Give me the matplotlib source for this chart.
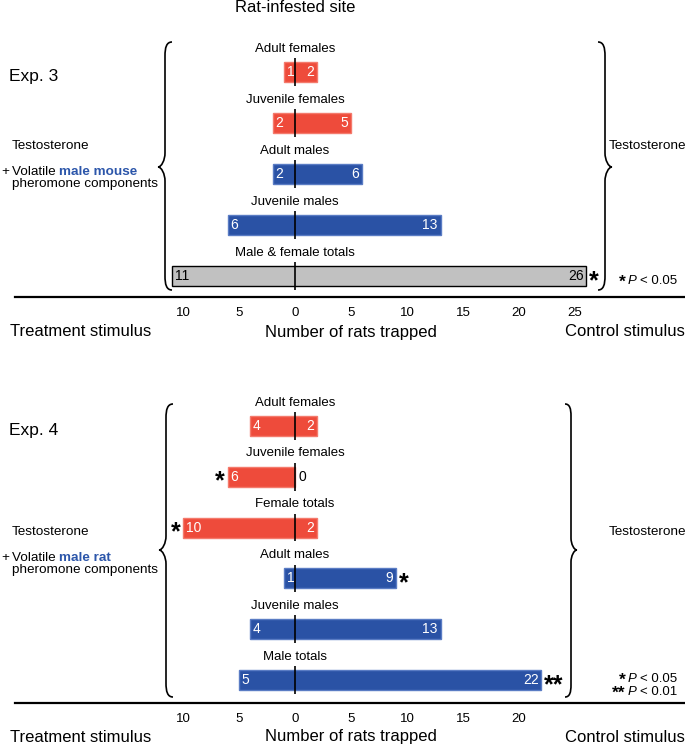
import matplotlib
matplotlib.use('Agg')
import matplotlib.pyplot as plt
from matplotlib.path import Path
from matplotlib.patches import PathPatch
import numpy as np

plt.rcParams['font.family'] = ['Liberation Sans', 'DejaVu Sans']

# ---------------------------------------------------------------------------
#  data
# ---------------------------------------------------------------------------
exp3_groups    = ['Adult females', 'Juvenile females', 'Adult males',
                  'Juvenile males', 'Male & female totals']
exp3_treatment = [1, 2, 2, 6, 11]
exp3_control   = [2, 5, 6, 13, 26]
exp3_sex       = ['f', 'f', 'm', 'm', 'all']
exp3_sig_treat = ['', '', '', '', '']
exp3_sig_ctrl  = ['', '', '', '', '*']
exp3_ticks     = [-10, -5, 0, 5, 10, 15, 20, 25]

exp4_groups    = ['Adult females', 'Juvenile females', 'Female totals',
                  'Adult males', 'Juvenile males', 'Male totals']
exp4_treatment = [4, 6, 10, 1, 4, 5]
exp4_control   = [2, 0, 2, 9, 13, 22]
exp4_sex       = ['f', 'f', 'f', 'm', 'm', 'm']
exp4_sig_treat = ['', '*', '*', '', '', '']
exp4_sig_ctrl  = ['', '', '', '*', '', '**']
exp4_ticks     = [-10, -5, 0, 5, 10, 15, 20]

# ---------------------------------------------------------------------------
#  style
# ---------------------------------------------------------------------------
fill_colors = {'f': '#EE4B3B', 'm': '#2A52A5', 'all': '#C1C1C1'}
edge_colors = {'f': '#F47A6C', 'm': '#5A7CC4', 'all': 'black'}
text_colors = {'f': 'white', 'm': 'white', 'all': 'black'}
BLUE_TEXT = '#2C56AA'
SIDE_FS = 9.7
STAR_FS = 18

W, H = 685, 747
ZERO_PX, UNIT_PX = 295, 11.2
fig = plt.figure(figsize=(W / 100, H / 100), dpi=100)

# overlay axes in pixel coordinates for free text and braces
ov = fig.add_axes([0, 0, 1, 1], zorder=5)
ov.set_xlim(0, W)
ov.set_ylim(H, 0)
ov.axis('off')
ov.patch.set_alpha(0)


def make_axes(top_px, bottom_px, first_row_px, row_px):
    left, right = 15, 685
    ax = fig.add_axes([left / W, 1 - bottom_px / H, (right - left) / W, (bottom_px - top_px) / H])
    ax.set_xlim((left - ZERO_PX) / UNIT_PX, (right - ZERO_PX) / UNIT_PX)
    ax.set_ylim((bottom_px - first_row_px) / row_px, (top_px - first_row_px) / row_px)
    for s in ['top', 'left', 'right']:
        ax.spines[s].set_visible(False)
    ax.spines['bottom'].set_linewidth(1.6)
    ax.set_yticks([])
    ax.patch.set_alpha(0)
    return ax


def draw_panel(ax, groups, treat, ctrl, sex, sig_t, sig_c, ticks):
    rows = np.arange(len(groups))
    treat = np.array(treat)
    ctrl = np.array(ctrl)
    ax.barh(rows, treat + ctrl, left=-treat, height=0.39,
            color=[fill_colors[s] for s in sex],
            edgecolor=[edge_colors[s] for s in sex], linewidth=1.0, zorder=2)
    ax.vlines(np.zeros(len(rows)), rows - 0.27, rows + 0.27, color='black', linewidth=1.2, zorder=3)
    for i, g in enumerate(groups):
        ax.text(0, i - 0.46, g, ha='center', va='center', fontsize=9.5)
        tc = text_colors[sex[i]]
        ax.text(-treat[i] + 0.25, i, str(treat[i]), ha='left', va='center',
                fontsize=10, color=tc, zorder=4)
        if ctrl[i] == 0:
            ax.text(0.3, i, '0', ha='left', va='center', fontsize=10, color='black', zorder=4)
        else:
            ax.text(ctrl[i] - 0.25, i, str(ctrl[i]), ha='right', va='center',
                    fontsize=10, color=tc, zorder=4)
        if sig_t[i]:
            ax.annotate(sig_t[i], xy=(-treat[i], i), xytext=(-2, -3.5), textcoords='offset points',
                        ha='right', va='center', fontsize=STAR_FS, fontweight='bold')
        if sig_c[i]:
            ax.annotate(sig_c[i], xy=(ctrl[i], i), xytext=(2, -3.5), textcoords='offset points',
                        ha='left', va='center', fontsize=STAR_FS, fontweight='bold')
    ax.set_xticks(ticks)
    ax.set_xticklabels([str(abs(t)) for t in ticks], fontsize=9.5)
    ax.tick_params(axis='x', length=0, pad=7)


def brace(x, y0, y1, ym, w, lw=1.2):
    # w > 0: tip points left, w < 0: tip points right
    verts = [(x + w, y0),
             (x + 0.2 * w, y0), (x, y0 + 0.8 * abs(w)), (x, y0 + 2 * abs(w)),
             (x, ym - 2 * abs(w)),
             (x, ym - abs(w)), (x - 0.5 * w, ym), (x - w, ym),
             (x - 0.5 * w, ym), (x, ym + abs(w)), (x, ym + 2 * abs(w)),
             (x, y1 - 2 * abs(w)),
             (x, y1 - 0.8 * abs(w)), (x + 0.2 * w, y1), (x + w, y1)]
    codes = [Path.MOVETO,
             Path.CURVE4, Path.CURVE4, Path.CURVE4,
             Path.LINETO,
             Path.CURVE4, Path.CURVE4, Path.CURVE4,
             Path.CURVE4, Path.CURVE4, Path.CURVE4,
             Path.LINETO,
             Path.CURVE4, Path.CURVE4, Path.CURVE4]
    ov.add_patch(PathPatch(Path(verts, codes), facecolor='none', edgecolor='black', lw=lw))


def sig_key(x, y, stars, p_text, fontsize=9.5):
    # "<stars> P < 0.05", right-aligned at x
    t = ov.text(x, y, p_text, ha='right', va='center', fontsize=fontsize)
    p = ov.annotate('P ', xy=(0, 0.5), xycoords=t, ha='right', va='center',
                    fontsize=fontsize, style='italic')
    ov.annotate(stars, xy=(0, 0.5), xycoords=p, xytext=(-1.5, -1), textcoords='offset points',
                ha='right', va='center', fontsize=12.5, fontweight='bold')


def chain_left(x, y, parts, fontsize=SIDE_FS):
    prev = None
    for text, kw in parts:
        if prev is None:
            prev = ov.text(x, y, text, ha='left', va='baseline', fontsize=fontsize, **kw)
        else:
            prev = ov.annotate(text, xy=(1, 0), xycoords=prev, ha='left', va='bottom',
                               fontsize=fontsize, **kw)


# ---------------------------------------------------------------------------
#  panels
# ---------------------------------------------------------------------------
ax3 = make_axes(40, 297, 72, 51)
draw_panel(ax3, exp3_groups, exp3_treatment, exp3_control, exp3_sex,
           exp3_sig_treat, exp3_sig_ctrl, exp3_ticks)

ax4 = make_axes(400, 703, 426, 50.8)
draw_panel(ax4, exp4_groups, exp4_treatment, exp4_control, exp4_sex,
           exp4_sig_treat, exp4_sig_ctrl, exp4_ticks)

# titles and side texts
ov.text(295, 8, 'Rat-infested site', ha='center', va='center', fontsize=12)
ov.text(9, 76, 'Exp. 3', ha='left', va='center', fontsize=12.5)
ov.text(9, 430, 'Exp. 4', ha='left', va='center', fontsize=12.5)

for y0, mol in [(146, 'male mouse'), (532, 'male rat')]:
    ov.text(12, y0, 'Testosterone', ha='left', va='center', fontsize=SIDE_FS)
    ov.text(1, y0 + 29, '+', ha='left', va='baseline', fontsize=SIDE_FS)
    chain_left(12, y0 + 29, [('Volatile ', {}),
                             (mol, {'color': BLUE_TEXT, 'fontweight': 'bold'})])
    ov.text(12, y0 + 41, 'pheromone components', ha='left', va='baseline', fontsize=SIDE_FS)
    ov.text(609, y0, 'Testosterone', ha='left', va='center', fontsize=SIDE_FS)

# braces
brace(165, 42, 290, 167, 7)
brace(605, 42, 290, 167, -7)
brace(166, 404, 697, 550, 7)
brace(571, 404, 697, 550, -6)

# significance keys
sig_key(677, 281, '*', '< 0.05')
sig_key(677, 679, '*', '< 0.05')
sig_key(677, 692, '**', '< 0.01')

# axis captions
for y in [332, 737]:
    ov.text(10, y, 'Treatment stimulus', ha='left', va='center', fontsize=12)
    ov.text(351, y, 'Number of rats trapped', ha='center', va='center', fontsize=12)
    ov.text(685, y, 'Control stimulus', ha='right', va='center', fontsize=12)

fig.savefig('out.png', dpi=100)
